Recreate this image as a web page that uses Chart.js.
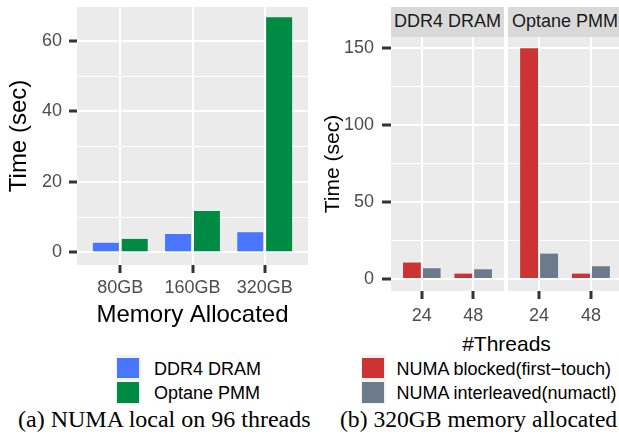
<!DOCTYPE html>
<html>
<head>
<meta charset="utf-8">
<script src="https://cdn.jsdelivr.net/npm/chart.js@4.4.1/dist/chart.umd.min.js"></script>
<style>
  html, body { margin: 0; padding: 0; background: #fff; overflow: hidden; }
  #page { position: relative; width: 619px; height: 437px; overflow: hidden; font-family: "Liberation Sans", Arial, sans-serif; }
  canvas { position: absolute; top: 0; }
  .strip { position: absolute; top: 7px; height: 25px; padding-top: 5px; background: #D9D9D9; color: #1A1A1A;
           font-size: 18px; line-height: 18px; text-align: center; white-space: nowrap; }
  .legend-bg { position: absolute; background: #F2F2F2; }
  .key { position: absolute; }
  .legend-text { position: absolute; font-size: 18px; line-height: 18px; color: #000; white-space: nowrap; }
  .caption { position: absolute; top: 407px; font-family: "Liberation Serif", "Times New Roman", serif;
             font-size: 24px; line-height: 24px; color: #000; white-space: nowrap; }
  #threads-title { position: absolute; top: 333px; left: 391px; width: 231px; text-align: center;
                   font-size: 21px; line-height: 21px; color: #000; }
</style>
</head>
<body>
<div id="page">
  <canvas id="local" width="310" height="335" style="left:0"></canvas>
  <canvas id="dram" width="194" height="330" style="left:310px"></canvas>
  <canvas id="optane" width="114" height="330" style="left:508px"></canvas>
  <div class="strip" style="left:391px; width:113px">DDR4 DRAM</div>
  <div class="strip" style="left:508px; width:114px">Optane PMM</div>
  <div id="threads-title">#Threads</div>
  <div class="caption" style="left:18px">(a) NUMA local on 96 threads</div>
  <div class="caption" style="left:340px; font-size:23.6px">(b) 320GB memory allocated</div>
</div>
<script>
  // (a) NUMA local, 96 threads
  const memory = ['80GB', '160GB', '320GB'];
  const ddr4Local = [2.7, 5.2, 5.7];
  const optaneLocal = [3.8, 11.7, 66.7];
  const leftTicks = [0, 20, 40, 60];
  const leftMinor = [10, 30, 50];

  // (b) 320GB allocated
  const threads = ['24', '48'];
  const dramBlocked = [10.7, 3.5];
  const dramInterleaved = [7.0, 6.3];
  const optaneBlocked = [150, 3.5];
  const optaneInterleaved = [16.5, 8.3];
  const rightTicks = [0, 50, 100, 150];
  const rightMinor = [25, 75, 125];

  Chart.defaults.font.family = '"Liberation Sans", Arial, sans-serif';

  function points(values) {
    return values.map((v, i) => ({ x: i, y: v }));
  }

  // grey ggplot panel behind the grid
  const panelBg = {
    id: 'panelBg',
    beforeDraw(chart) {
      const a = chart.chartArea;
      const c = chart.ctx;
      c.save();
      c.fillStyle = '#EBEBEB';
      c.fillRect(a.left, a.top, a.right - a.left, a.bottom - a.top);
      c.restore();
    }
  };

  // no extra room for overflowing tick labels, panel edges are fixed
  function noPad(s) {
    s.paddingTop = 0;
    s.paddingBottom = 0;
    s.paddingLeft = 0;
    s.paddingRight = 0;
  }

  function xScale(labels, height, padding, title) {
    return {
      type: 'linear',
      offset: false,
      min: -0.6,
      max: labels.length - 0.4,
      afterBuildTicks: s => { s.ticks = labels.map((l, i) => ({ value: i })); },
      afterFit: s => { s.height = height; noPad(s); },
      border: { display: false },
      grid: { color: '#FFFFFF', lineWidth: 2, offset: false, tickLength: 8, tickWidth: 3, tickColor: '#333333' },
      ticks: { callback: v => labels[v], color: '#4D4D4D', font: { size: 18 }, padding: padding,
               maxRotation: 0, autoSkip: false },
      title: title || { display: false }
    };
  }

  function yScale(major, minor, min, max, o) {
    const isMajor = c => c.tick && major.includes(c.tick.value);
    return {
      min: min,
      max: max,
      afterBuildTicks: s => {
        s.ticks = major.concat(minor).sort((a, b) => a - b).map(v => ({ value: v }));
      },
      afterFit: s => { s.width = o.width; noPad(s); },
      border: { display: false },
      grid: {
        color: '#FFFFFF',
        lineWidth: c => isMajor(c) ? 2 : 1,
        drawTicks: o.showTicks,
        tickLength: o.tickLength || 8,
        tickWidth: 3,
        tickColor: c => isMajor(c) ? '#333333' : 'rgba(0,0,0,0)'
      },
      ticks: { display: o.showTicks, callback: v => major.includes(v) ? v : '',
               color: '#4D4D4D', font: { size: 18 }, padding: o.padding || 0 },
      title: o.title || { display: false }
    };
  }

  function barSet(label, values, color, cp) {
    return { label: label, data: points(values), backgroundColor: color,
             categoryPercentage: cp, barPercentage: 0.9 };
  }

  const common = {
    responsive: false,
    animation: false,
    plugins: { legend: { display: false }, tooltip: { enabled: false } }
  };

  const localChart = new Chart(document.getElementById('local'), {
    type: 'bar',
    data: {
      datasets: [
        barSet('DDR4 DRAM', ddr4Local, '#4876FF', 0.8),
        barSet('Optane PMM', optaneLocal, '#008B45', 0.8)
      ]
    },
    options: Object.assign({}, common, {
      layout: { padding: { top: 7, right: 2, left: 0, bottom: 0 } },
      scales: {
        x: xScale(memory, 70, 4, { display: true, text: 'Memory Allocated', color: '#000',
                                   font: { size: 24 }, padding: { bottom: 5.6 } }),
        y: yScale(leftTicks, leftMinor, -3.6, 69.6, {
          width: 77, showTicks: true, tickLength: 8, padding: 7,
          title: { display: true, text: 'Time (sec)', color: '#000', font: { size: 24 }, padding: { top: 4.6 } }
        })
      }
    }),
    plugins: [panelBg]
  });

  const dramChart = new Chart(document.getElementById('dram'), {
    type: 'bar',
    data: {
      datasets: [
        barSet('NUMA blocked(first\u2212touch)', dramBlocked, '#CD3333', 0.77),
        barSet('NUMA interleaved(numactl)', dramInterleaved, '#6C7B8B', 0.77)
      ]
    },
    options: Object.assign({}, common, {
      layout: { padding: { top: 37, right: 0, left: 0, bottom: 0 } },
      scales: {
        x: xScale(threads, 39, 6),
        y: yScale(rightTicks, rightMinor, -7.8, 157.3, {
          width: 81, showTicks: true, tickLength: 9, padding: 8,
          title: { display: true, text: 'Time (sec)', color: '#000', font: { size: 21 }, padding: { top: 10.4 } }
        })
      }
    }),
    plugins: [panelBg]
  });

  new Chart(document.getElementById('optane'), {
    type: 'bar',
    data: {
      datasets: [
        barSet('NUMA blocked(first\u2212touch)', optaneBlocked, '#CD3333', 0.77),
        barSet('NUMA interleaved(numactl)', optaneInterleaved, '#6C7B8B', 0.77)
      ]
    },
    options: Object.assign({}, common, {
      layout: { padding: { top: 37, right: 0, left: 0, bottom: 0 } },
      scales: {
        x: xScale(threads, 39, 6),
        y: yScale(rightTicks, rightMinor, -7.8, 157.3, { width: 0, showTicks: false })
      }
    }),
    plugins: [panelBg]
  });

  // ggplot style legends, built from the dataset labels and colours
  function drawLegend(chart, left, textLeft) {
    const page = document.getElementById('page');
    const bg = document.createElement('div');
    bg.className = 'legend-bg';
    bg.style.cssText = 'left:' + left + 'px; top:355px; width:25px; height:49px';
    page.appendChild(bg);
    chart.data.datasets.forEach((ds, i) => {
      const key = document.createElement('div');
      key.className = 'key';
      key.style.cssText = 'left:' + (left + 1.5) + 'px; top:' + (357.5 + i * 24.5) + 'px; width:22px; height:20.5px; background:' + ds.backgroundColor;
      page.appendChild(key);
      const txt = document.createElement('div');
      txt.className = 'legend-text';
      txt.style.cssText = 'left:' + textLeft + 'px; top:' + (360 + i * 24) + 'px';
      txt.textContent = ds.label;
      page.appendChild(txt);
    });
  }

  drawLegend(localChart, 115.5, 154);
  drawLegend(dramChart, 360.5, 396.5);
</script>
</body>
</html>
